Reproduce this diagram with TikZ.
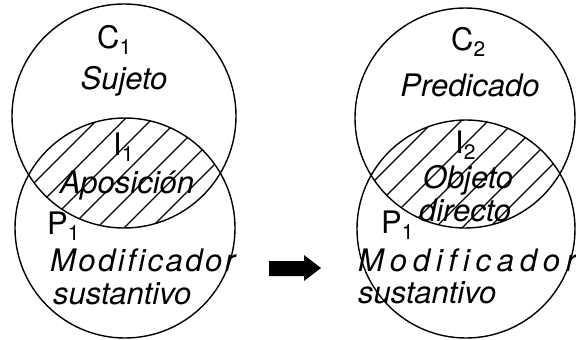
\documentclass[tikz,border=0pt]{standalone}
\usepackage{fontspec}
\setmainfont{TeX Gyre Heros}
\newcommand\subn[1]{\raisebox{-6pt}{\fontsize{21}{21}\selectfont #1}}
\newcommand\spreadtext[2]{\makebox[#1][s]{#2}}
\begin{document}
\begin{tikzpicture}[x=1pt,y=-1pt,
  lbl/.style={inner sep=0pt, font=\fontsize{31}{31}\selectfont},
  itl/.style={inner sep=0pt, font=\fontsize{31}{31}\selectfont\itshape},
  ring/.style={line width=1.4pt},
  hatch/.style={line width=1.1pt},
  bigarrow/.style={fill=black}]
\useasboundingbox (0,0) rectangle (576,340);
% ---------- left pair ----------
\begin{scope}
  \clip (124,116) circle [radius=112pt];
  \clip (125,228) circle [radius=110pt];
  \foreach \c in {190,217,...,460} \draw[hatch] (\c-60,60) -- (\c-260,260);
\end{scope}
\draw[ring] (124,116) circle [radius=112pt];
\draw[ring] (125,228) circle [radius=110pt];
\node[lbl, anchor=base west] (c1) at (97,48) {C\subn{1}};
\node[itl, anchor=base] (suj) at (124,89) {Sujeto};
\node[lbl, anchor=base west] (i1) at (113,155) {I\subn{1}};
\node[itl, anchor=base] (apo) at (127,193) {Aposición};
\node[lbl, anchor=base west] (p1a) at (47,234) {P\subn{1}};
\node[itl, anchor=base west] (moda) at (50,271) {\spreadtext{185pt}{M\hfil o\hfil d\hfil i\hfil f\hfil i\hfil c\hfil a\hfil d\hfil o\hfil r}};
\node[itl, anchor=base west] (susa) at (53,304) {sustantivo};
% ---------- arrow ----------
\fill[bigarrow] (269,261) -- (304,261) -- (304,255) -- (321,268) -- (304,281) -- (304,276) -- (269,276) -- cycle;
% ---------- right pair ----------
\begin{scope}
  \clip (465,118) circle [radius=110pt];
  \clip (466,229) circle [radius=109pt];
  \foreach \c in {528,555,...,820} \draw[hatch] (\c-60,60) -- (\c-260,260);
\end{scope}
\draw[ring] (465,118) circle [radius=110pt];
\draw[ring] (466,229) circle [radius=109pt];
\node[lbl, anchor=base west] (c2) at (451,50) {C\subn{2}};
\node[itl, anchor=base] (pred) at (470,96) {Predicado};
\node[lbl, anchor=base west] (i2) at (455,153) {I\subn{2}};
\node[itl, anchor=base] (obj) at (468,188) {Objeto};
\node[itl, anchor=base] (dir) at (465,221) {directo};
\node[lbl, anchor=base west] (p1b) at (381,233) {P\subn{1}};
\node[itl, anchor=base west] (modb) at (358,271) {\spreadtext{218pt}{M\hfil o\hfil d\hfil i\hfil f\hfil i\hfil c\hfil a\hfil d\hfil o\hfil r}};
\node[itl, anchor=base west] (susb) at (358,303) {sustantivo};
\end{tikzpicture}
\end{document}
